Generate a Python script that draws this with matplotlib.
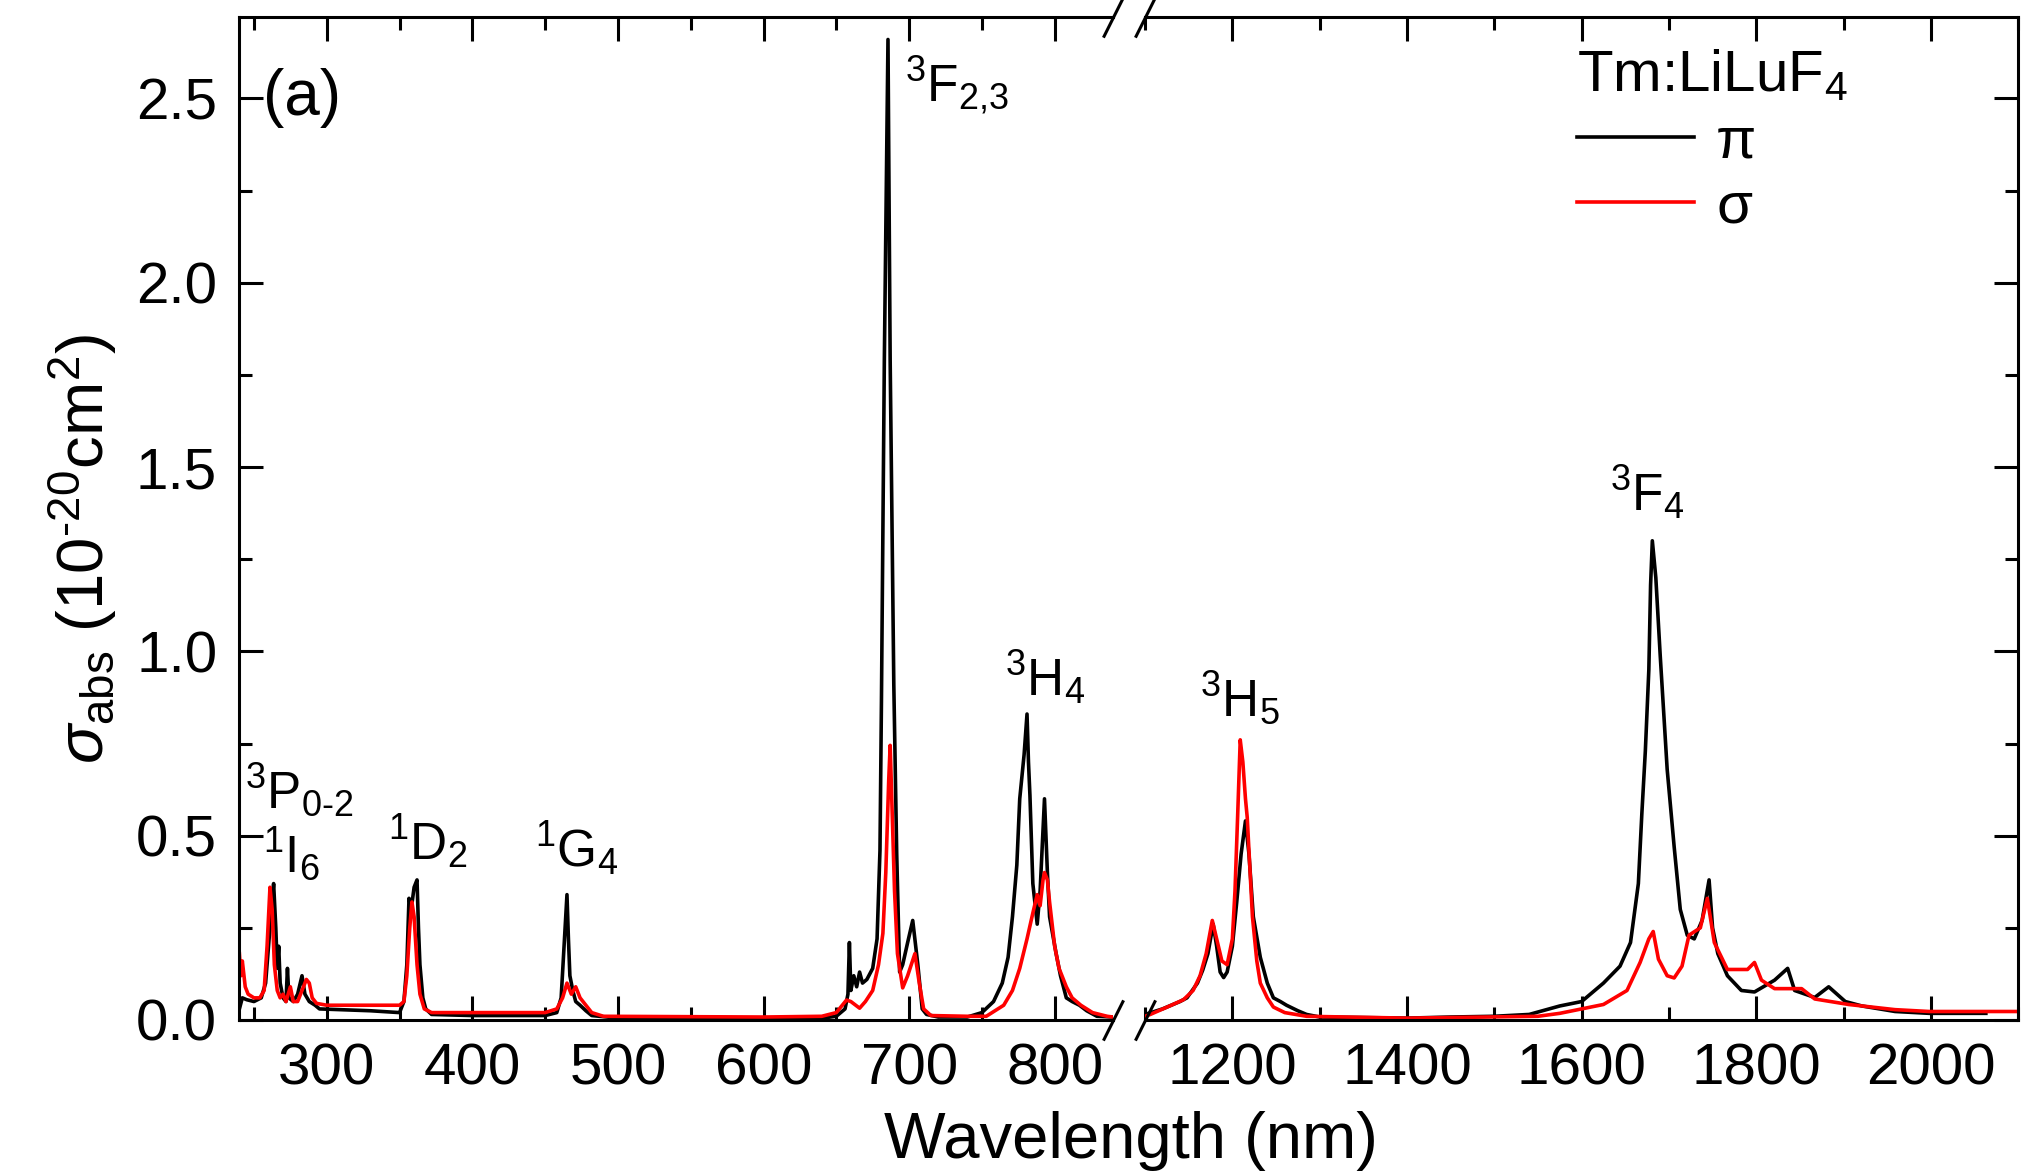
import numpy as np
import matplotlib
matplotlib.use("Agg")
import matplotlib.pyplot as plt
from matplotlib.ticker import MultipleLocator, FormatStrFormatter

plt.rcParams['font.family'] = ['Liberation Sans', 'DejaVu Sans']
plt.rcParams['mathtext.fontset'] = 'custom'
plt.rcParams['mathtext.rm'] = 'Liberation Sans'
plt.rcParams['mathtext.it'] = 'Liberation Sans:italic'
plt.rcParams['mathtext.bf'] = 'Liberation Sans:bold'

# pi polarisation (black), wavelength in nm / cross-section in 1e-20 cm^2
pi_wl = [240, 242, 245, 250, 255, 258, 260, 262, 263.5, 265, 266, 267, 268, 270, 272, 273, 274, 277,
         280, 283, 285, 288, 292, 295, 330, 350, 353, 355, 356.5, 358, 360, 362, 363, 364, 366, 368,
         372, 400, 450, 458, 461, 463, 465, 466, 467, 469, 471, 474, 478, 482, 500, 600, 640, 650,
         656, 658, 659, 660, 662, 664, 666, 668, 671, 675, 678, 680, 681, 683, 685.5, 687, 689.5,
         691.5, 693.5, 695.6, 699, 702.5, 706, 709, 712, 720, 740, 750, 758, 764, 768, 771, 774, 776,
         779, 781, 782, 783, 785, 788, 790, 793, 795, 796.5, 801, 804, 808, 812, 817, 822, 829, 840,
         1100, 1120, 1140, 1148, 1160, 1166, 1172, 1178, 1182, 1186, 1190, 1194, 1200, 1205, 1210,
         1215, 1219, 1224, 1232, 1240, 1247, 1255, 1262, 1275, 1285, 1300, 1400, 1450, 1500, 1540,
         1575, 1600, 1625, 1644, 1656, 1665, 1669, 1673, 1677, 1679, 1681, 1685, 1690, 1698, 1706,
         1713, 1721, 1729, 1738, 1746, 1750, 1756, 1767, 1783, 1798, 1821, 1836, 1844, 1867, 1883,
         1902, 1921, 1959, 1998, 2036, 2063]
pi_abs = [0.03, 0.06, 0.055, 0.05, 0.06, 0.10, 0.20, 0.30, 0.37, 0.25, 0.14, 0.20, 0.10, 0.06, 0.05,
          0.14, 0.06, 0.05, 0.07, 0.12, 0.07, 0.05, 0.04, 0.03, 0.025, 0.02, 0.05, 0.15, 0.33, 0.30,
          0.36, 0.38, 0.25, 0.15, 0.06, 0.03, 0.015, 0.012, 0.012, 0.02, 0.06, 0.20, 0.34, 0.22, 0.12,
          0.08, 0.05, 0.04, 0.025, 0.012, 0.005, 0.003, 0.005, 0.01, 0.03, 0.07, 0.21, 0.08, 0.12,
          0.09, 0.13, 0.10, 0.11, 0.14, 0.22, 0.46, 0.86, 1.79, 2.66, 1.79, 0.91, 0.45, 0.13, 0.15,
          0.21, 0.27, 0.15, 0.03, 0.015, 0.008, 0.008, 0.02, 0.05, 0.10, 0.17, 0.28, 0.42, 0.60, 0.72,
          0.83, 0.70, 0.61, 0.37, 0.26, 0.35, 0.60, 0.40, 0.28, 0.18, 0.12, 0.06, 0.05, 0.04, 0.025,
          0.01, 0.008,
          0.015, 0.03, 0.05, 0.06, 0.10, 0.135, 0.18, 0.26, 0.20, 0.13, 0.115, 0.13, 0.20, 0.32, 0.45,
          0.54, 0.45, 0.28, 0.17, 0.10, 0.06, 0.05, 0.04, 0.025, 0.015, 0.008, 0.005, 0.008, 0.01,
          0.015, 0.038, 0.05, 0.10, 0.146, 0.21, 0.37, 0.56, 0.73, 0.95, 1.18, 1.30, 1.20, 0.99, 0.68,
          0.47, 0.30, 0.23, 0.22, 0.27, 0.38, 0.25, 0.18, 0.12, 0.08, 0.076, 0.108, 0.14, 0.08, 0.061,
          0.09, 0.05, 0.038, 0.023, 0.018, 0.018, 0.018]

# sigma polarisation (red)
sig_wl = [240, 241, 242, 244, 246, 250, 254, 257, 259, 261, 262.5, 264, 266, 268, 270, 272, 275, 277,
          280, 283, 286, 288, 290, 293, 300, 350, 353, 355, 357, 358.5, 360, 362, 364, 367, 372, 450,
          458, 462, 465, 468, 471, 474, 478, 482, 490, 600, 640, 650, 657, 660, 666, 670, 675, 679,
          682, 684, 686, 687, 688.5, 690, 692, 695.6, 699, 704, 707, 710, 715, 740, 753, 765, 771, 776,
          781, 785, 788, 790, 792, 793, 795, 796.5, 800, 803, 808, 812, 818, 826, 836, 840,
          1100, 1106, 1130, 1144, 1155, 1163, 1170, 1177, 1182, 1188, 1194, 1200, 1203, 1206, 1209,
          1212, 1215, 1217, 1223, 1228, 1232, 1240, 1247, 1260, 1285, 1400, 1550, 1575, 1625, 1652,
          1667, 1677, 1682, 1688, 1698, 1706, 1715, 1723, 1736, 1744, 1752, 1767, 1790, 1798, 1806,
          1821, 1852, 1867, 1906, 1959, 1998, 2100]
sig_abs = [0.18, 0.12, 0.16, 0.09, 0.07, 0.06, 0.06, 0.08, 0.20, 0.36, 0.30, 0.15, 0.08, 0.06, 0.07,
           0.05, 0.09, 0.05, 0.05, 0.08, 0.11, 0.10, 0.06, 0.045, 0.04, 0.04, 0.05, 0.12, 0.25, 0.32,
           0.28, 0.15, 0.07, 0.03, 0.02, 0.02, 0.03, 0.06, 0.10, 0.07, 0.09, 0.06, 0.04, 0.02, 0.01,
           0.008, 0.01, 0.02, 0.054, 0.05, 0.032, 0.05, 0.08, 0.15, 0.235, 0.40, 0.65, 0.745, 0.55,
           0.35, 0.18, 0.087, 0.12, 0.18, 0.10, 0.03, 0.012, 0.01, 0.01, 0.04, 0.08, 0.14, 0.22, 0.29,
           0.34, 0.31, 0.38, 0.40, 0.38, 0.32, 0.20, 0.14, 0.09, 0.06, 0.04, 0.02, 0.01, 0.008,
           0.01, 0.015, 0.04, 0.055, 0.08, 0.12, 0.18, 0.27, 0.22, 0.16, 0.15, 0.22, 0.35, 0.55, 0.76,
           0.70, 0.60, 0.55, 0.28, 0.16, 0.10, 0.06, 0.035, 0.02, 0.01, 0.005, 0.01, 0.018, 0.042,
           0.08, 0.156, 0.22, 0.24, 0.165, 0.12, 0.114, 0.146, 0.23, 0.25, 0.33, 0.21, 0.137, 0.137,
           0.156, 0.108, 0.085, 0.085, 0.057, 0.042, 0.028, 0.023, 0.023]

# level labels: (text, wavelength, value)
labels_left = [('$^3$P$_{0\u20102}$', 244, 0.575),
               (r'$^1$I$_6$', 256, 0.398),
               (r'$^1$D$_2$', 342, 0.434),
               (r'$^1$G$_4$', 443, 0.415),
               (r'$^3$F$_{2{,}3}$', 697, 2.49),
               (r'$^3$H$_4$', 766, 0.878)]
labels_right = [(r'$^3$H$_5$', 1163, 0.824),
                (r'$^3$F$_4$', 1633, 1.38)]

fig = plt.figure(figsize=(20.22, 11.74), dpi=100)
ax1 = fig.add_axes([0.1184, 0.1312, 0.432, 0.854])
ax2 = fig.add_axes([0.5663, 0.1312, 0.4318, 0.854])

for ax in (ax1, ax2):
    ax.plot(pi_wl, pi_abs, color='black', lw=2.6, label='π')
    ax.plot(sig_wl, sig_abs, color='red', lw=2.6, label='σ')
    ax.set_ylim(0, 2.72)
    ax.yaxis.set_major_locator(MultipleLocator(0.5))
    ax.yaxis.set_minor_locator(MultipleLocator(0.25))
    ax.yaxis.set_major_formatter(FormatStrFormatter('%.1f'))
    ax.tick_params(which='both', direction='in', top=True, width=2.2, labelsize=42, pad=16)
    ax.tick_params(which='major', length=17)
    ax.tick_params(which='minor', length=9.5)
    for s in ax.spines.values():
        s.set_linewidth(2.2)

ax1.set_xlim(240, 840)
ax1.xaxis.set_major_locator(MultipleLocator(100))
ax1.xaxis.set_minor_locator(MultipleLocator(50))
ax1.spines['right'].set_visible(False)
ax1.tick_params(which='both', right=False)

ax2.set_xlim(1100, 2100)
ax2.xaxis.set_major_locator(MultipleLocator(200))
ax2.xaxis.set_minor_locator(MultipleLocator(100))
ax2.spines['left'].set_visible(False)
ax2.tick_params(which='both', left=False, right=True, labelleft=False)

# break marks
kw = dict(marker=[(-1, -2), (1, 2)], markersize=29, linestyle='none', color='k', mec='k', mew=2.2,
          clip_on=False)
ax1.plot([1, 1], [0, 1], transform=ax1.transAxes, **kw)
ax2.plot([0, 0], [0, 1], transform=ax2.transAxes, **kw)

for txt, x, y in labels_left:
    ax1.text(x, y, txt, fontsize=37, ha='left', va='baseline')
for txt, x, y in labels_right:
    ax2.text(x, y, txt, fontsize=37, ha='left', va='baseline')

ax1.text(0.027, 2.5, '(a)', transform=ax1.get_yaxis_transform(), fontsize=46, ha='left', va='center')

leg = ax2.legend(title='Tm:LiLuF$_4$', loc='upper left', bbox_to_anchor=(0.495, 0.969), frameon=False,
                 fontsize=42, title_fontsize=42, handlelength=2.0, handletextpad=0.38,
                 labelspacing=0.2, borderpad=0, borderaxespad=0, alignment='left')

fig.text(0.5593, 0.0136, 'Wavelength (nm)', fontsize=47, ha='center', va='baseline')
fig.text(0.041, 0.532, '$\\sigma_\\mathrm{abs}$ (10$^{\u201020}$cm$^2$)', fontsize=47,
         rotation=90, ha='center', va='center')

fig.savefig('out.png', dpi=100)
